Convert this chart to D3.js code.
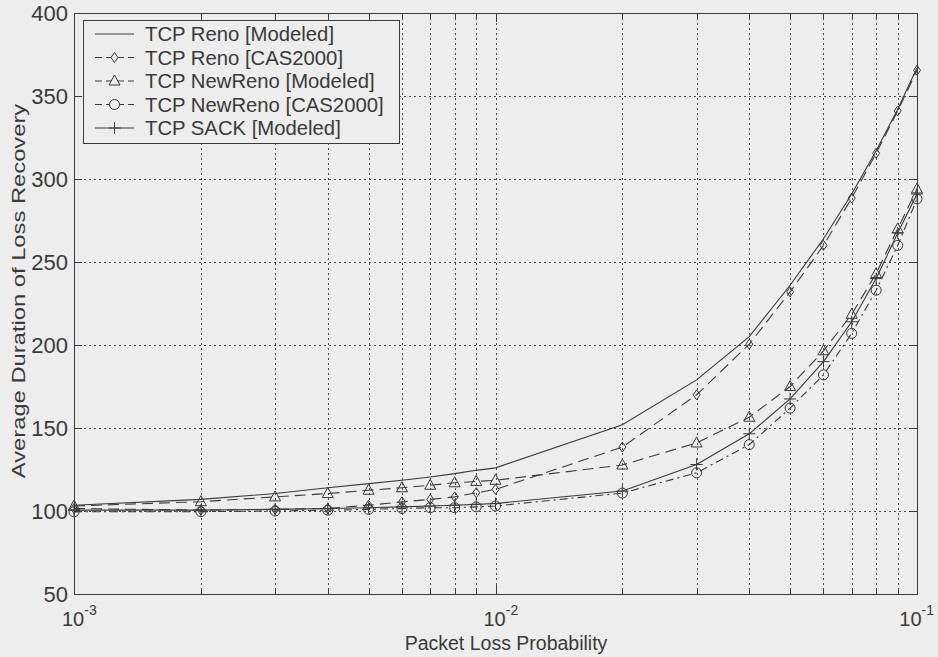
<!DOCTYPE html>
<html>
<head>
<meta charset="utf-8">
<script src="https://cdn.jsdelivr.net/npm/d3@7"></script>
<style>
  html, body { margin: 0; padding: 0; background: #ededed; }
  svg { display: block; font-family: "Liberation Sans", Arial, sans-serif; }
</style>
</head>
<body>
<svg id="chart" width="938" height="657"></svg>
<script>
// packet loss probabilities (x)
const probs = [0.001, 0.002, 0.003, 0.004, 0.005, 0.006, 0.007, 0.008, 0.009, 0.01,
               0.02, 0.03, 0.04, 0.05, 0.06, 0.07, 0.08, 0.09, 0.1];

const renoModeled    = [103.5, 107, 110.5, 114, 116.5, 118.5, 120.5, 122.5, 124.5, 126,
                        152, 179, 205, 236, 264, 291, 317, 342, 367];
const renoCas        = [101.5, 100.5, 101, 101.5, 103.5, 105.5, 107, 108.5, 111, 113,
                        138.5, 170, 200.5, 232, 260, 288.5, 315.5, 341, 365.5];
const newRenoModeled = [103, 105.6, 108.5, 110.5, 112.5, 114, 115.5, 117, 117.8, 118.5,
                        127.7, 141, 156.5, 175, 196.5, 218.5, 243, 270, 294];
const newRenoCas     = [99.5, 99.6, 100, 100.5, 101, 101.5, 102, 102, 102.5, 103,
                        110.8, 123, 140, 162, 182, 207, 233, 260, 288];
const sackModeled    = [100.5, 100.5, 101, 101.5, 102, 102.5, 103, 103.5, 104, 104.5,
                        112, 128, 146.5, 167.5, 190, 214, 240, 267.5, 291];

const yTicks = [50, 100, 150, 200, 250, 300, 350, 400];
const xDecades = [1e-3, 1e-2, 1e-1];
const xLabelExp = ["-3", "-2", "-1"];

const series = [
  { name: "TCP Reno [Modeled]",     values: renoModeled,    dash: null,        marker: null },
  { name: "TCP Reno [CAS2000]",     values: renoCas,        dash: "11,6",      marker: "diamond" },
  { name: "TCP NewReno [Modeled]",  values: newRenoModeled, dash: "11,6",      marker: "triangle" },
  { name: "TCP NewReno [CAS2000]",  values: newRenoCas,     dash: "8,4,2,4",   marker: "circle" },
  { name: "TCP SACK [Modeled]",     values: sackModeled,    dash: null,        marker: "plus" }
];

const ink = "#3a3a3a";
const bg = "#ededed";
const svg = d3.select("#chart");
const mLeft = 74, mRight = 917, mTop = 13, mBottom = 594;

const x = d3.scaleLog().domain([1e-3, 1e-1]).range([mLeft, mRight]);
const y = d3.scaleLinear().domain([50, 400]).range([mBottom, mTop]);

svg.append("rect").attr("width", 938).attr("height", 657).attr("fill", bg);

// grid
const grid = svg.append("g").attr("stroke", "#4a4a4a").attr("stroke-width", 1)
  .attr("stroke-dasharray", "2,3");
const xTickVals = x.ticks();
grid.selectAll("line.v")
  .data(xTickVals.filter(d => d > 1.0001e-3 && d < 0.0999))
  .join("line")
  .attr("x1", d => Math.round(x(d)) + 0.5).attr("x2", d => Math.round(x(d)) + 0.5)
  .attr("y1", mTop).attr("y2", mBottom);
grid.selectAll("line.h")
  .data(yTicks.slice(1, -1))
  .join("line")
  .attr("y1", d => Math.round(y(d)) + 0.5).attr("y2", d => Math.round(y(d)) + 0.5)
  .attr("x1", mLeft).attr("x2", mRight);

// axis box + inner ticks
const axes = svg.append("g").attr("stroke", ink).attr("stroke-width", 1).attr("fill", "none");
axes.append("rect").attr("x", mLeft + 0.5).attr("y", mTop + 0.5)
  .attr("width", mRight - mLeft).attr("height", mBottom - mTop);
xTickVals.forEach(d => {
  const px = Math.round(x(d)) + 0.5;
  const len = xDecades.some(v => Math.abs(v - d) < 1e-9) ? 9 : 6;
  axes.append("line").attr("x1", px).attr("x2", px).attr("y1", mBottom).attr("y2", mBottom - len);
  axes.append("line").attr("x1", px).attr("x2", px).attr("y1", mTop).attr("y2", mTop + len);
});
yTicks.forEach(d => {
  const py = Math.round(y(d)) + 0.5;
  axes.append("line").attr("x1", mLeft).attr("x2", mLeft + 8).attr("y1", py).attr("y2", py);
  axes.append("line").attr("x1", mRight).attr("x2", mRight - 8).attr("y1", py).attr("y2", py);
});

// tick labels
svg.append("g").selectAll("text")
  .data(yTicks)
  .join("text")
  .attr("x", mLeft - 6).attr("y", d => y(d) + 8)
  .attr("text-anchor", "end").attr("font-size", 22).attr("fill", ink)
  .text(d => d);

const xl = svg.append("g").attr("fill", ink);
xDecades.forEach((d, i) => {
  const last = i === xDecades.length - 1;
  const t = xl.append("text")
    .attr("x", last ? 934 : x(d) - 12)
    .attr("text-anchor", last ? "end" : "start")
    .attr("y", 626).attr("font-size", 20);
  t.append("tspan").text("10");
  t.append("tspan").attr("dy", -11).attr("font-size", 14).text(xLabelExp[i]);
});

svg.append("text").attr("x", 506).attr("y", 650).attr("text-anchor", "middle")
  .attr("font-size", 19.5).attr("fill", ink).text("Packet Loss Probability");
svg.append("text").attr("transform", "translate(25,291) scale(1,1.25) rotate(-90)")
  .attr("text-anchor", "middle").attr("font-size", 19).attr("fill", ink)
  .text("Average Duration of Loss Recovery");

// markers
function drawMarker(g, type, cx, cy) {
  if (type === "diamond") {
    g.append("path").attr("d", `M${cx},${cy - 5}L${cx + 3.5},${cy}L${cx},${cy + 5}L${cx - 3.5},${cy}Z`);
  } else if (type === "triangle") {
    g.append("path").attr("d", `M${cx},${cy - 6}L${cx + 5.5},${cy + 4}L${cx - 5.5},${cy + 4}Z`);
  } else if (type === "circle") {
    g.append("circle").attr("cx", cx).attr("cy", cy).attr("r", 5);
  } else if (type === "plus") {
    g.append("path").attr("d", `M${cx - 6},${cy}H${cx + 6}M${cx},${cy - 6}V${cy + 6}`);
  }
}

const line = d3.line().x(d => x(d[0])).y(d => y(d[1]));
const plot = svg.append("g");
series.forEach(s => {
  const pts = probs.map((p, i) => [p, s.values[i]]);
  plot.append("path").datum(pts).attr("d", line)
    .attr("fill", "none").attr("stroke", ink).attr("stroke-width", 1.1)
    .attr("stroke-dasharray", s.dash);
  if (s.marker) {
    const mg = plot.append("g").attr("fill", "none").attr("stroke", ink).attr("stroke-width", 1);
    pts.forEach(d => drawMarker(mg, s.marker, x(d[0]), y(d[1])));
  }
});

// legend
const lg = svg.append("g");
lg.append("rect").attr("x", 83.5).attr("y", 20.5).attr("width", 316).attr("height", 123)
  .attr("fill", bg).attr("stroke", ink);
series.forEach((s, i) => {
  const ly = 34 + i * 23.5;
  lg.append("line").attr("x1", 95).attr("x2", 134).attr("y1", ly).attr("y2", ly)
    .attr("stroke", ink).attr("stroke-width", 1.1).attr("stroke-dasharray", s.dash ? "7,4" : null);
  if (s.marker) {
    const mg = lg.append("g").attr("fill", bg).attr("stroke", ink);
    drawMarker(mg, s.marker, 114.5, ly);
  }
  lg.append("text").attr("x", 145).attr("y", ly + 7).attr("font-size", 20.3)
    .attr("fill", ink).text(s.name);
});
</script>
</body>
</html>
